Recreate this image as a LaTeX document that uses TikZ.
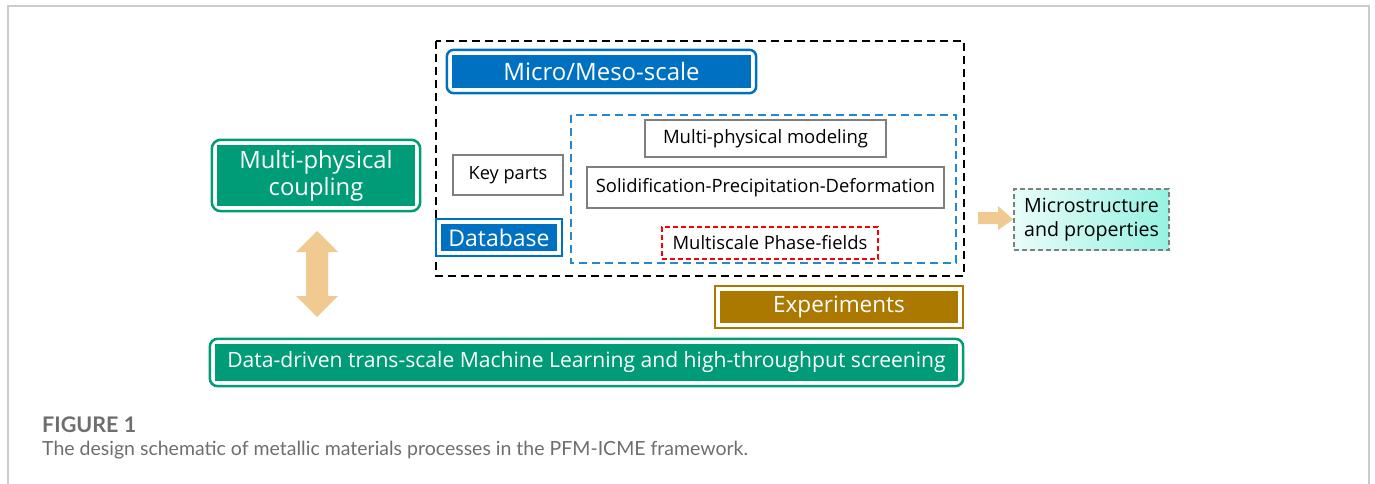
\documentclass[tikz,border=0pt]{standalone}
\usepackage{fontspec}
\setmainfont{Open Sans}
\newfontfamily\capfont{Lato}
\usetikzlibrary{calc}
\definecolor{cblue}{RGB}{0,112,192}
\definecolor{cgreen}{RGB}{0,155,119}
\definecolor{cbrown}{RGB}{171,121,0}
\definecolor{cdash}{RGB}{35,135,210}
\definecolor{cgray}{RGB}{127,127,127}
\definecolor{cframe}{RGB}{204,204,204}
\definecolor{carrow}{RGB}{240,202,145}
\definecolor{caqua}{RGB}{150,242,226}
\definecolor{caqual}{RGB}{232,252,249}
\definecolor{ccap}{RGB}{110,110,110}
\tikzset{
  filled/.style={inner sep=0pt, text=white, align=center},
  whitebox/.style={draw=cgray, line width=1.3pt, fill=white, inner sep=0pt, text=black, align=center},
  bigdash/.style={line width=1.8pt, dash pattern=on 8pt off 5pt},
  smalldash/.style={line width=1.8pt, dash pattern=on 5pt off 3pt},
  blockarrow/.style={fill=carrow, draw=none},
}
\begin{document}
\begin{tikzpicture}[x=1pt,y=-1pt]
\useasboundingbox (0,0) rectangle (1375,484);
% page frame
\draw[cframe, line width=1.2pt] (8,484) -- (8,6) -- (1369,6) -- (1369,484);

% dashed containers
\draw[bigdash, black] (436,41) rectangle (964,276);
\draw[bigdash, cdash] (571,115) rectangle (956,263);

% Micro/Meso-scale
\node[filled, fill=cblue, minimum width=299pt, minimum height=33pt, font=\fontsize{24}{26}\selectfont] (micro) at (601.5,71.5) {Micro/Meso-scale};
\draw[cblue, line width=2.5pt, rounded corners=7pt] ([shift={(-5,-5)}]micro.north west) rectangle ([shift={(5,5)}]micro.south east);

% Multi-physical coupling
\node[filled, fill=cgreen, minimum width=198pt, minimum height=61pt, font=\fontsize{23.8}{27}\selectfont] (coupling) at (316,175.5) {Multi-physical\\coupling};
\draw[cgreen, line width=2.5pt, rounded corners=9pt] ([shift={(-5,-5)}]coupling.north west) rectangle ([shift={(5,5)}]coupling.south east);

% Key parts
\node[whitebox, minimum width=110pt, minimum height=40pt, font=\fontsize{18.2}{22}\selectfont] (key) at (508,175) {Key parts};

% Database
\node[filled, fill=cblue, minimum width=116pt, minimum height=27pt, font=\fontsize{23}{24}\selectfont] (db) at (499,237.5) {Database};
\draw[cblue, line width=2pt] ([shift={(-5,-4.5)}]db.north west) rectangle ([shift={(5,4.5)}]db.south east);

% inner boxes
\node[whitebox, minimum width=241pt, minimum height=37pt, font=\fontsize{18.5}{21}\selectfont] (mpm) at (765.5,138.5) {Multi-physical modeling};
\node[whitebox, minimum width=357pt, minimum height=41pt, font=\fontsize{18.4}{21}\selectfont] (spd) at (765.5,187.5) {Solidification-Precipitation-Deformation};
\node[whitebox, draw=red, smalldash, minimum width=216pt, minimum height=32pt, font=\fontsize{18.4}{21}\selectfont] (mpf) at (770,243) {Multiscale Phase-fields};

% Microstructure and properties
\node[draw=cgray, smalldash, left color=caqual, right color=caqua, minimum width=155pt, minimum height=61pt, inner sep=0pt, align=center, font=\fontsize{19.6}{24}\selectfont] (micros) at (1091.5,219.5) {Microstructure\\and properties};

% right block arrow
\filldraw[blockarrow] (978,212) -- (998,212) -- (998,206) -- (micros.west) -- (998,230) -- (998,224) -- (978,224) -- cycle;

% Experiments
\node[filled, fill=cbrown, minimum width=238pt, minimum height=32pt, font=\fontsize{22.5}{24}\selectfont] (exp) at (839,307) {Experiments};
\draw[cbrown, line width=2pt] ([shift={(-5,-4.5)}]exp.north west) rectangle ([shift={(5,4.5)}]exp.south east);

% Data-driven
\node[filled, fill=cgreen, minimum width=743pt, minimum height=37pt, font=\fontsize{21.1}{24}\selectfont] (data) at (586.5,362.5) {Data-driven trans-scale Machine Learning and high-throughput screening};
\draw[cgreen, line width=2.5pt, rounded corners=8pt] ([shift={(-5,-5)}]data.north west) rectangle ([shift={(5,5)}]data.south east);

% vertical double block arrow
\coordinate (vt) at (317,231);
\coordinate (vb) at (317,317);
\fill[carrow] (vt) -- (338,252) -- (328,252) -- (328,296) -- (338,296) -- (vb) -- (296,296) -- (306,296) -- (306,252) -- (296,252) -- cycle;

% caption
\node[anchor=base west, inner sep=0pt, text=ccap, font=\capfont\bfseries\fontsize{21.5}{22}\selectfont] (fig) at (42,432) {FIGURE 1};
\node[anchor=base west, inner sep=0pt, text=ccap, font=\capfont\fontsize{19.5}{22}\selectfont] (cap) at (42,455) {The design schematic of metallic materials processes in the PFM-ICME framework.};
\end{tikzpicture}
\end{document}
